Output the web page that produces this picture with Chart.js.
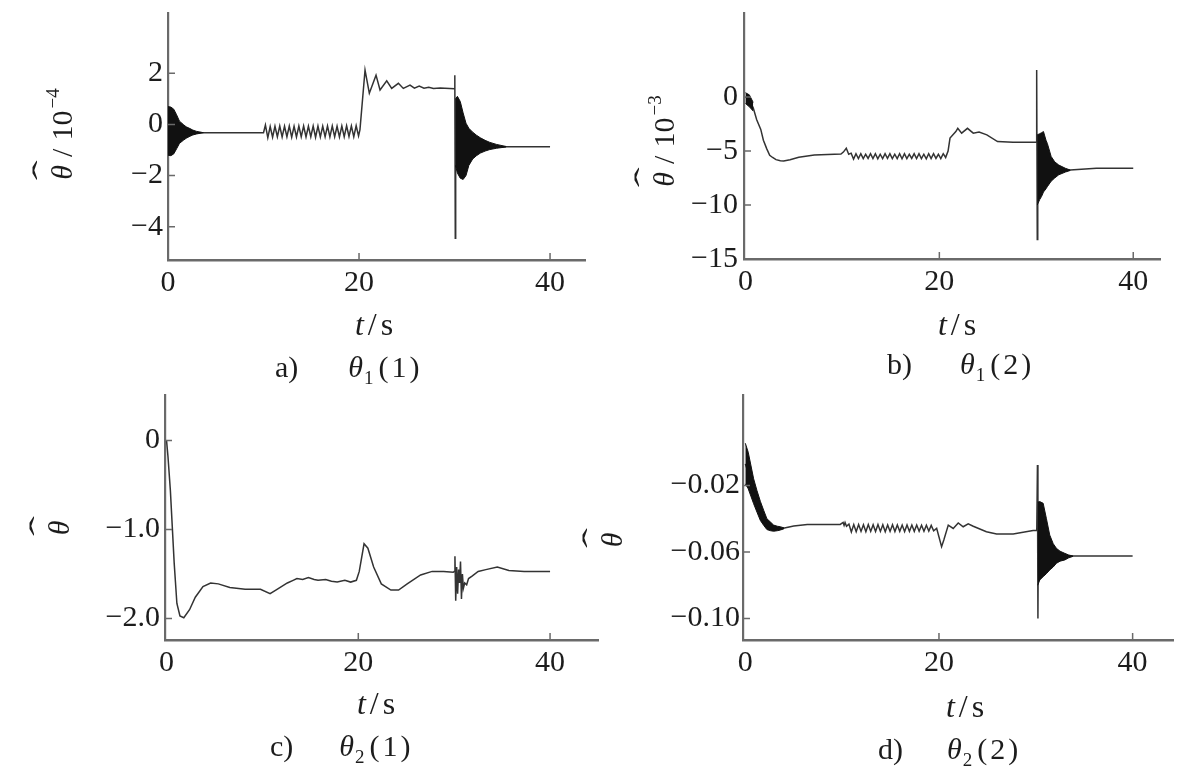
<!DOCTYPE html>
<html><head><meta charset="utf-8">
<script src="https://cdn.jsdelivr.net/npm/chart.js@4.4.1/dist/chart.umd.min.js"></script>
<style>
html,body{margin:0;padding:0;background:#fff;}
body{width:1200px;height:777px;position:relative;overflow:hidden;}
.p{position:absolute;}
</style></head><body>
<div class="p" style="left:0px;top:0px;width:600px;height:390px"><canvas id="ca" width="600" height="390"></canvas></div>
<div class="p" style="left:600px;top:0px;width:600px;height:390px"><canvas id="cb" width="600" height="390"></canvas></div>
<div class="p" style="left:0px;top:390px;width:600px;height:387px"><canvas id="cc" width="600" height="387"></canvas></div>
<div class="p" style="left:580px;top:390px;width:620px;height:387px"><canvas id="cd" width="620" height="387"></canvas></div>
<script>
// ---------- shared ticks ----------
const xTicks = [0, 20, 40];
const xTickLabels = ['0', '20', '40'];

// ---------- panel a : theta1(1), unit 1e-4 ----------
const aT = [0, 3.7, 10.0,
  10.2, 10.45, 10.7, 10.95, 11.2, 11.45, 11.7, 11.95, 12.2, 12.45, 12.7, 12.95, 13.2, 13.45, 13.7, 13.95, 14.2, 14.45, 14.7, 14.95,
  15.2, 15.45, 15.7, 15.95, 16.2, 16.45, 16.7, 16.95, 17.2, 17.45, 17.7, 17.95, 18.2, 18.45, 18.7, 18.95, 19.2, 19.45, 19.7, 19.95,
  20.1, 20.63, 21.08, 21.78, 22.2, 22.9, 23.42, 24.12, 24.64, 25.34, 25.8, 26.3, 26.8, 27.3, 27.8, 28.5, 30.0, 30.03, 30.08, 30.12, 30.2, 31.0, 32.0, 34.0, 40.0];
const aV = [-0.3, -0.32, -0.32,
  -0.02, -0.52, -0.08, -0.5, -0.07, -0.48, -0.06, -0.49, -0.07, -0.48, -0.06, -0.5, -0.07, -0.49, -0.06, -0.48, -0.06, -0.49, -0.07, -0.48,
  -0.06, -0.5, -0.06, -0.49, -0.07, -0.48, -0.06, -0.49, -0.06, -0.48, -0.07, -0.49, -0.06, -0.48, -0.05, -0.47, -0.06, -0.48, -0.05, -0.45,
  -0.2, 2.13, 1.22, 1.93, 1.35, 1.71, 1.41, 1.61, 1.41, 1.54, 1.42, 1.5, 1.42, 1.46, 1.41, 1.43, 1.4, 1.93, -4.45, 1.0, -0.4, -0.7, -0.85, -0.87, -0.87];
const aBurst1T  = [0, 0.3, 0.6, 0.9, 1.2, 1.6, 1.9, 2.3, 2.6, 3.0, 3.7];
const aBurst1Hi = [0.7, 0.68, 0.6, 0.38, 0.13, 0.0, -0.09, -0.16, -0.22, -0.27, -0.32];
const aBurst1Lo = [-1.2, -1.22, -1.15, -0.95, -0.74, -0.62, -0.54, -0.46, -0.41, -0.37, -0.32];
const aBurst2T  = [30.1, 30.3, 30.6, 30.9, 31.2, 31.5, 31.9, 32.3, 32.7, 33.2, 33.7, 34.4, 35.4];
const aBurst2Hi = [1.0, 1.1, 0.9, 0.45, 0.05, -0.15, -0.3, -0.42, -0.52, -0.62, -0.7, -0.78, -0.86];
const aBurst2Lo = [-1.6, -1.9, -2.1, -2.15, -2.0, -1.6, -1.35, -1.22, -1.12, -1.04, -0.98, -0.93, -0.88];
const aYTicks = [2, 0, -2, -4];
const aYTickLabels = ['2', '0', '\u22122', '\u22124'];

// ---------- panel b : theta1(2), unit 1e-3 ----------
const bT = [0, 0.4, 0.8, 1.16, 1.58, 1.85, 2.2, 2.5, 2.8, 3.15, 3.6, 3.94, 4.6, 5.5, 7.1, 9.85, 10.1, 10.4, 10.65,
  10.9, 11.15, 11.4, 11.65, 11.9, 12.15, 12.4, 12.65, 12.9, 13.15, 13.4, 13.65, 13.9, 14.15, 14.4, 14.65, 14.9, 15.15, 15.4, 15.65,
  15.9, 16.15, 16.4, 16.65, 16.9, 17.15, 17.4, 17.65, 17.9, 18.15, 18.4, 18.65, 18.9, 19.15, 19.4, 19.65, 19.9, 20.15, 20.4, 20.65,
  20.9, 21.1, 21.7, 21.9, 22.3, 22.9, 23.5, 24.1, 24.9, 26.0, 27.6, 30.0, 30.04, 30.1, 30.15, 30.3, 31.0, 32.0, 33.5, 36.2, 40.0];
const bV = [0.0, -0.3, -1.0, -2.1, -3.0, -4.0, -4.8, -5.4, -5.6, -5.8, -5.9, -5.93, -5.8, -5.58, -5.37, -5.28, -5.1, -4.75, -5.3,
  -5.2, -5.75, -5.25, -5.7, -5.25, -5.7, -5.3, -5.68, -5.25, -5.7, -5.25, -5.72, -5.3, -5.7, -5.25, -5.68, -5.25, -5.7, -5.3, -5.7,
  -5.25, -5.72, -5.25, -5.7, -5.3, -5.68, -5.25, -5.7, -5.25, -5.7, -5.3, -5.72, -5.25, -5.7, -5.25, -5.68, -5.3, -5.7, -5.25, -5.6,
  -5.0, -3.8, -3.2, -2.9, -3.35, -2.9, -3.35, -3.25, -3.5, -4.13, -4.2, -4.2, 2.5, -13.2, -3.5, -6.5, -6.8, -7.0, -6.76, -6.6, -6.6];
const bBurst1T  = [0, 0.4, 0.8];
const bBurst1Hi = [0.4, 0.2, -0.5];
const bBurst1Lo = [-0.6, -0.9, -1.3];
const bBurst2T  = [30.1, 30.35, 30.55, 30.74, 31.0, 31.14, 31.53, 31.9, 32.32, 33.0, 33.5];
const bBurst2Hi = [-3.5, -3.4, -3.3, -3.2, -4.0, -4.3, -5.5, -6.0, -6.3, -6.6, -6.76];
const bBurst2Lo = [-10.0, -9.5, -9.2, -8.8, -8.5, -8.3, -7.8, -7.5, -7.2, -6.95, -6.8];
const bYTicks = [0, -5, -10, -15];
const bYTickLabels = ['0', '\u22125', '\u221210', '\u221215'];

// ---------- panel c : theta2(1) ----------
const cT = [0, 0.15, 0.4, 0.8, 1.08, 1.4, 1.8, 2.4, 3.0, 3.8, 4.6, 5.4, 6.6, 8.2, 9.8, 10.8, 11.4, 12.6, 13.2, 13.6,
  14.2, 14.8, 15.4, 15.8, 16.6, 17.2, 17.8, 18.6, 19.2, 19.8, 20.1, 20.6, 21.0, 21.6, 22.4, 23.4, 24.2, 25.1, 26.5, 27.7,
  28.9, 29.9, 30.0, 30.08, 30.16, 30.26, 30.36, 30.46, 30.56, 30.66, 30.76, 30.86, 30.96, 31.1, 31.3, 31.5, 31.9, 32.5, 33.3, 34.5,
  35.7, 37.3, 40.0];
const cV = [0, -0.18, -0.56, -1.38, -1.83, -1.97, -1.99, -1.9, -1.76, -1.64, -1.6, -1.61, -1.65, -1.67, -1.67, -1.72, -1.68, -1.6, -1.57, -1.55,
  -1.56, -1.54, -1.56, -1.57, -1.56, -1.58, -1.59, -1.57, -1.59, -1.57, -1.47, -1.16, -1.21, -1.42, -1.61, -1.68, -1.68, -1.61, -1.51, -1.47,
  -1.47, -1.48, -1.47, -1.3, -1.8, -1.42, -1.72, -1.45, -1.6, -1.36, -1.78, -1.5, -1.66, -1.6, -1.62, -1.55, -1.52, -1.47, -1.45, -1.42,
  -1.46, -1.47, -1.47];
const cYTicks = [0, -1, -2];
const cYTickLabels = ['0', '\u22121.0', '\u22122.0'];

// ---------- panel d : theta2(2) ----------
const dT = [0, 1.0, 2.0, 3.0, 3.8, 5.0, 6.4, 9.8, 10.1, 10.2, 10.3, 10.45,
  10.7, 10.95, 11.2, 11.45, 11.7, 11.95, 12.2, 12.45, 12.7, 12.95, 13.2, 13.45, 13.7, 13.95, 14.2, 14.45, 14.7, 14.95,
  15.2, 15.45, 15.7, 15.95, 16.2, 16.45, 16.7, 16.95, 17.2, 17.45, 17.7, 17.95, 18.2, 18.45, 18.7, 18.95, 19.2, 19.45,
  19.76, 20.27, 20.5, 20.96, 21.47, 21.99, 22.5, 23.02, 23.54, 24.9, 25.95, 27.66, 29.72, 30.1, 30.17, 30.22, 30.28, 30.4, 31.0, 32.0, 33.85, 40.0];
const dV = [-0.007, -0.025, -0.04, -0.046, -0.0458, -0.0444, -0.0434, -0.0434, -0.0422, -0.044, -0.0422, -0.0445,
  -0.0432, -0.048, -0.0435, -0.0478, -0.0435, -0.0476, -0.0436, -0.0478, -0.0435, -0.0476, -0.0436, -0.0477, -0.0435, -0.0476, -0.0436, -0.0478, -0.0437, -0.0476,
  -0.0436, -0.0477, -0.0437, -0.0476, -0.0438, -0.0477, -0.0437, -0.0476, -0.0438, -0.0476, -0.0438, -0.0475, -0.0439, -0.0475, -0.0439, -0.0474, -0.044, -0.0472,
  -0.0458, -0.0568, -0.0528, -0.0438, -0.0458, -0.0425, -0.0448, -0.043, -0.0445, -0.0478, -0.0492, -0.0492, -0.047, -0.047, -0.0077, -0.0999, -0.03, -0.06, -0.065, -0.063, -0.0624, -0.0624];
const dBurst1T  = [0, 0.3, 0.86, 1.2, 1.55, 1.9, 2.23, 2.6, 2.92, 3.3, 3.61, 4.0];
const dBurst1Hi = [0.0054, 0.0, -0.016, -0.023, -0.0295, -0.035, -0.040, -0.042, -0.0438, -0.0445, -0.0448, -0.0455];
const dBurst1Lo = [-0.019, -0.022, -0.031, -0.036, -0.041, -0.044, -0.0465, -0.0472, -0.0475, -0.0472, -0.0468, -0.046];
const dBurst2T  = [30.2, 30.41, 30.76, 31.1, 31.44, 31.8, 32.13, 32.5, 32.99, 33.4, 33.85];
const dBurst2Hi = [-0.03, -0.0297, -0.0307, -0.040, -0.0498, -0.055, -0.0578, -0.0595, -0.0608, -0.0618, -0.0624];
const dBurst2Lo = [-0.08, -0.0768, -0.0748, -0.073, -0.0708, -0.069, -0.0668, -0.0655, -0.0648, -0.0635, -0.0626];
const dYTicks = [-0.02, -0.06, -0.10];
const dYTickLabels = ['\u22120.02', '\u22120.06', '\u22120.10'];

// ---------- styling ----------
const SERIF = '"Liberation Serif", "DejaVu Serif", serif';
const AX = '#6a6a6a';
const LINE = '#333333';
const BLOB = '#111111';
const TXT = '#1c1c1c';

function pts(T, V) { const n = Math.min(T.length, V.length); const out = []; for (let i = 0; i < n; i++) out.push({x: T[i], y: V[i]}); return out; }

function segFont(s, base) { return (s.it ? 'italic ' : '') + (s.size || base) + 'px ' + SERIF; }
function drawRich(ctx, it, ox, oy) {
  const base = it.size || 30;
  ctx.save();
  ctx.fillStyle = TXT;
  ctx.textBaseline = 'alphabetic';
  ctx.textAlign = 'left';
  const ws = []; let w = 0;
  it.segs.forEach(s => { ctx.font = segFont(s, base); const sw = ctx.measureText(s.t).width; ws.push(sw); w += (s.gap || 0) + sw; });
  ctx.translate(it.x - ox, it.y - oy);
  if (it.rot) ctx.rotate(it.rot);
  let cx = it.align === 'center' ? -w / 2 : 0;
  it.segs.forEach((s, i) => {
    cx += s.gap || 0;
    ctx.font = segFont(s, base);
    ctx.fillText(s.t, cx, s.dy || 0);
    if (s.hat) {
      ctx.save();
      ctx.translate(cx + ws[i] / 2 + 2, -base * 0.62);
      ctx.scale(2.0, 1);
      ctx.font = base + 'px ' + SERIF;
      ctx.textAlign = 'center';
      ctx.fillText('\u02C6', 0, 0);
      ctx.restore();
    }
    cx += ws[i];
  });
  ctx.restore();
}

const richText = {
  id: 'richText',
  afterDraw(chart, args, opts) {
    const ctx = chart.ctx;
    (opts.items || []).forEach(it => drawRich(ctx, it, opts.ox, opts.oy));
  }
};
const inTicks = {
  id: 'inTicks',
  afterDraw(chart) {
    const {ctx, chartArea: a, scales: {x, y}} = chart;
    ctx.save();
    ctx.strokeStyle = AX; ctx.lineWidth = 1.5;
    ctx.beginPath();
    x.ticks.forEach(t => { const px = x.getPixelForValue(t.value); if (px > a.left + 3) { ctx.moveTo(px, a.bottom); ctx.lineTo(px, a.bottom - 7); } });
    y.ticks.forEach(t => { const py = y.getPixelForValue(t.value); if (py < a.bottom - 3) { ctx.moveTo(a.left, py); ctx.lineTo(a.left + 7, py); } });
    ctx.stroke();
    ctx.restore();
  }
};

function caption(letter, sub, idx, gap) {
  return [{t: letter}, {t: '\u03B8', it: true, gap: gap}, {t: sub, size: 19, dy: 7, gap: 1},
    {t: '(', gap: 5}, {t: idx, gap: 3}, {t: ')', gap: 3}];
}
function tOverS() { return [{t: 't', it: true}, {t: '/', gap: 4}, {t: 's', gap: 4}]; }

function makePanel(p) {
  const ds = [{data: pts(p.T, p.V), borderColor: LINE, borderWidth: 1.5, pointRadius: 0, tension: 0, fill: false, order: 2}];
  p.bursts.forEach(b => {
    ds.push({data: pts(b[0], b[1]), borderColor: BLOB, backgroundColor: BLOB, borderWidth: 1, pointRadius: 0, tension: 0, fill: '+1', order: 1});
    ds.push({data: pts(b[0], b[2]), borderColor: BLOB, borderWidth: 1, pointRadius: 0, tension: 0, fill: false, order: 1});
  });
  const yw = p.ca.l - p.box.l, xh = p.box.t + p.box.h - p.ca.b;
  new Chart(document.getElementById(p.id), {
    type: 'line',
    data: {datasets: ds},
    options: {
      responsive: false, animation: false, events: [],
      layout: {padding: {left: 0, bottom: 0, top: p.ca.t - p.box.t, right: p.box.l + p.box.w - p.ca.r}},
      plugins: {legend: {display: false}, tooltip: {enabled: false}, title: {display: false},
        richText: {items: p.texts, ox: p.box.l, oy: p.box.t}},
      scales: {
        x: {type: 'linear', min: p.xr[0], max: p.xr[1],
          afterBuildTicks: s => { s.ticks = xTicks.map(v => ({value: v})); },
          afterFit: s => { s.height = xh; s.paddingLeft = 0; s.paddingRight = 0; },
          ticks: {autoSkip: false, maxRotation: 0, padding: p.xPad, color: TXT, font: {family: SERIF, size: 30},
            callback: v => xTickLabels[xTicks.indexOf(v)]},
          grid: {display: false, drawTicks: false},
          border: {display: true, color: AX, width: 2.6}},
        y: {type: 'linear', min: p.yr[0], max: p.yr[1],
          afterBuildTicks: s => { s.ticks = p.yTicks.map(v => ({value: v})); },
          afterFit: s => { s.width = yw; s.paddingTop = 0; s.paddingBottom = 0; },
          ticks: {autoSkip: false, padding: p.yPad, color: TXT, font: {family: SERIF, size: 30},
            callback: v => p.yLabels[p.yTicks.indexOf(v)]},
          grid: {display: false, drawTicks: false},
          border: {display: true, color: AX, width: 2.2}}
      }
    },
    plugins: [inTicks, richText]
  });
}

const R = -Math.PI / 2;
makePanel({id: 'ca', box: {l: 0, t: 0, w: 600, h: 390}, ca: {l: 168, t: 13, r: 585, b: 260},
  T: aT, V: aV, bursts: [[aBurst1T, aBurst1Hi, aBurst1Lo], [aBurst2T, aBurst2Hi, aBurst2Lo]],
  xr: [0, 43.66], yr: [-5.30, 4.36], yTicks: aYTicks, yLabels: aYTickLabels, xPad: 5, yPad: 5,
  texts: [
    {x: 72, y: 134, rot: R, align: 'center', size: 30, segs: [{t: '\u03B8', it: true, hat: true}, {t: '/', gap: 8}, {t: '10', gap: 8}, {t: '\u22124', size: 19, dy: -13, gap: 2}]},
    {x: 374, y: 335, align: 'center', size: 32, segs: tOverS()},
    {x: 275, y: 377, size: 30, segs: caption('a)', '1', '1', 50)}
  ]});
makePanel({id: 'cb', box: {l: 600, t: 0, w: 600, h: 390}, ca: {l: 744, t: 13, r: 1160, b: 259},
  T: bT, V: bV, bursts: [[bBurst1T, bBurst1Hi, bBurst1Lo], [bBurst2T, bBurst2Hi, bBurst2Lo]],
  xr: [-0.15, 42.76], yr: [-15.0, 7.78], yTicks: bYTicks, yLabels: bYTickLabels, xPad: 5, yPad: 6,
  texts: [
    {x: 674, y: 141, rot: R, align: 'center', size: 30, segs: [{t: '\u03B8', it: true, hat: true}, {t: '/', gap: 8}, {t: '10', gap: 8}, {t: '\u22123', size: 19, dy: -13, gap: 2}]},
    {x: 957, y: 335, align: 'center', size: 32, segs: tOverS()},
    {x: 887, y: 374, size: 30, segs: caption('b)', '1', '2', 48)}
  ]});
makePanel({id: 'cc', box: {l: 0, t: 390, w: 600, h: 387}, ca: {l: 165, t: 395, r: 598, b: 640},
  T: cT, V: cV, bursts: [],
  xr: [-0.16, 45.0], yr: [-2.24, 0.51], yTicks: cYTicks, yLabels: cYTickLabels, xPad: 5, yPad: 5,
  texts: [
    {x: 69, y: 528, rot: R, align: 'center', size: 30, segs: [{t: '\u03B8', it: true, hat: true}]},
    {x: 376, y: 714, align: 'center', size: 32, segs: tOverS()},
    {x: 270, y: 756, size: 30, segs: caption('c)', '2', '1', 46)}
  ]});
makePanel({id: 'cd', box: {l: 580, t: 390, w: 620, h: 387}, ca: {l: 743, t: 395, r: 1173, b: 640},
  T: dT, V: dV, bursts: [[dBurst1T, dBurst1Hi, dBurst1Lo], [dBurst2T, dBurst2Hi, dBurst2Lo]],
  xr: [-0.24, 44.17], yr: [-0.1129, 0.0344], yTicks: dYTicks, yLabels: dYTickLabels, xPad: 5, yPad: 3,
  texts: [
    {x: 622, y: 540, rot: R, align: 'center', size: 30, segs: [{t: '\u03B8', it: true, hat: true}]},
    {x: 965, y: 717, align: 'center', size: 32, segs: tOverS()},
    {x: 878, y: 759, size: 30, segs: caption('d)', '2', '2', 44)}
  ]});
</script>
</body></html>
